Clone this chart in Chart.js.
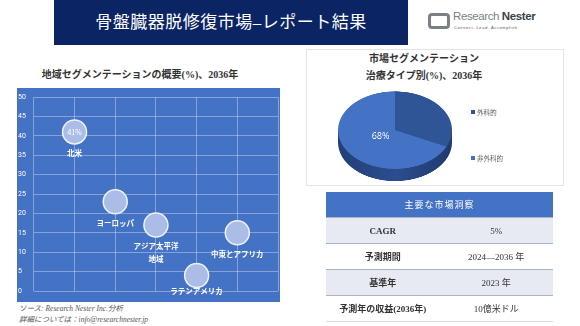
<!DOCTYPE html>
<html lang="ja">
<head>
<meta charset="utf-8">
<script src="https://cdn.jsdelivr.net/npm/chart.js@4"></script>
<style>
  body { margin: 0; width: 580px; height: 326px; position: relative; background: #fff; overflow: hidden;
         font-family: "Liberation Serif", "Noto Sans CJK JP", serif; }
  .abs { position: absolute; }
  #banner { left: 54px; top: 0; width: 354px; height: 45px; background: #0b2463; color: #fff;
            font-size: 17px; line-height: 45px; text-align: center; letter-spacing: 0.5px; }
  #logo-icon { left: 428px; top: 13px; width: 16px; height: 10px; border: 3px solid #7b7f86; border-radius: 4px; }
  #logo-icon2 { left: 436px; top: 16px; width: 5px; height: 8px; background: #fff; }
  #logo-text { left: 453px; top: 10px; font-family: "Liberation Sans Narrow", "Liberation Sans", sans-serif;
               font-size: 11.5px; color: #7b7f86; letter-spacing: -0.4px; }
  #logo-text b { color: #3b3f48; }
  #logo-sub { left: 454px; top: 25px; font-family: "Liberation Sans", sans-serif; font-size: 4px; color: #555;
              letter-spacing: 0.6px; }
  #left-title { left: 20px; top: 66px; width: 240px; text-align: center; font-size: 10px; font-weight: bold; color: #333; }
  #scatter-box { left: 17px; top: 88px; width: 263px; height: 214px; background: #4472c4; }
  #source { left: 19px; top: 304px; font-size: 7.5px; font-style: italic; color: #555; line-height: 10.5px; }
  #pie-card { left: 306px; top: 49px; width: 258px; height: 137px; border: 1px solid #e3e3e3; box-sizing: border-box; }
  #pie-title { left: 306px; top: 50px; width: 236px; text-align: center; font-size: 10px; font-weight: bold;
               color: #333; line-height: 17px; }
  #pie-canvas { left: 336px; top: 90px; transform-origin: 0 0; transform: scaleY(0.68); }
  .legend { font-size: 6.5px; color: #595959; }
  .legend span { display: inline-block; width: 4px; height: 4px; margin-right: 2px; vertical-align: 1px; }
  #insights { left: 326px; top: 192px; width: 227px; border-collapse: collapse; font-size: 9px; color: #333; }
  #insights th { background: #4472c4; color: #fff; font-weight: normal; height: 25px; padding: 0; letter-spacing: 1px; }
  #insights td { height: 25px; padding: 0; text-align: center; border-top: 1px solid #aab3c5; }
  #insights td:first-child { font-weight: bold; width: 50%; }
  #insights tr:nth-child(odd) td { background: #e7eaf3; }
  #insights tr:last-child td { border-bottom: 1px solid #d5d9e2; }
</style>
</head>
<body>
<div id="banner" class="abs">骨盤臓器脱修復市場–レポート結果</div>
<div id="logo-icon" class="abs"></div>
<div id="logo-icon2" class="abs"></div>
<div id="logo-text" class="abs">Research <b>Nester</b></div>
<div id="logo-sub" class="abs">Connect. Lead. Accomplish</div>

<div id="left-title" class="abs">地域セグメンテーションの概要(%)、2036年</div>
<div id="scatter-box" class="abs"><canvas id="regionChart"></canvas></div>
<div id="source" class="abs">ソース: Research Nester Inc.分析<br>詳細については：info@researchnester.jp</div>

<div id="pie-card" class="abs"></div>
<div id="pie-title" class="abs">市場セグメンテーション<br>治療タイプ別(%)、2036年</div>
<canvas id="pie-canvas" class="abs" width="118" height="136"></canvas>
<div id="pie-legend"></div>

<table id="insights" class="abs">
  <thead><tr><th colspan="2">主要な市場洞察</th></tr></thead>
  <tbody id="insight-rows"></tbody>
</table>

<script>
// 地域別シェア (%)
const regions = ['北米', 'ヨーロッパ', ['アジア太平洋', '地域'], 'ラテンアメリカ', '中東とアフリカ'];
const regionShares = [41, 23, 17, 4, 15];
const valueLabelRegions = ['北米'];
const yTicks = { min: 0, max: 50, step: 5 };

// 治療タイプ別 (%)
const treatmentTypes = ['外科的', '非外科的'];
const treatmentShares = [32, 68];
const treatmentColors = ['#2f5597', '#4472c4'];

// 主要な市場洞察
const insightLabels = ['CAGR', '予測期間', '基準年', '予測年の収益(2036年)'];
const insightValues = ['5%', '2024—2036 年', '2023 年', '10億米ドル'];

// テーブル
document.getElementById('insight-rows').innerHTML = insightLabels
  .map((l, i) => '<tr><td>' + l + '</td><td>' + insightValues[i] + '</td></tr>').join('');

// 凡例
document.getElementById('pie-legend').innerHTML = treatmentTypes
  .map((t, i) => '<div class="abs legend" style="left:471px;top:' + (107 + i * 46) + 'px">' +
       '<span style="background:' + treatmentColors[i] + '"></span>' + t + '</div>').join('');

const regionNames = regions.map(r => [].concat(r).join(''));

// バブルの下にラベル
const bubbleLabels = {
  id: 'bubbleLabels',
  afterDatasetsDraw(chart) {
    const { ctx, chartArea } = chart;
    ctx.save();
    ctx.fillStyle = '#fff';
    ctx.textAlign = 'center';
    ctx.textBaseline = 'middle';
    chart.getDatasetMeta(0).data.forEach((pt, i) => {
      ctx.font = 'bold 7.5px "Noto Sans CJK JP"';
      const lines = [].concat(regions[i]);
      const y0 = Math.min(pt.y + 21, chartArea.bottom);
      lines.forEach((s, k) => ctx.fillText(s, pt.x, y0 + k * 13));
      if (valueLabelRegions.includes(regionNames[i])) {
        ctx.font = '7px "Noto Sans CJK JP"';
        ctx.fillText(regionShares[i] + '%', pt.x, pt.y);
      }
    });
    ctx.restore();
  }
};

const gridColor = 'rgba(255,255,255,0.35)';
new Chart(document.getElementById('regionChart'), {
  type: 'scatter',
  data: {
    datasets: [{
      data: regionShares.map((v, i) => ({ x: i + 1, y: v })),
      pointRadius: 12,
      pointHoverRadius: 12,
      backgroundColor: '#a9bde6',
      borderColor: '#eef2fa',
      borderWidth: 1.5
    }]
  },
  options: {
    responsive: true,
    maintainAspectRatio: false,
    animation: false,
    layout: { autoPadding: false, padding: { top: 9, bottom: 11, left: 1, right: 2 } },
    plugins: { legend: { display: false }, tooltip: { enabled: false } },
    scales: {
      x: {
        min: 0, max: regions.length + 1,
        ticks: { display: false, stepSize: 1 },
        grid: { color: gridColor, drawTicks: false },
        border: { display: false }
      },
      y: {
        min: yTicks.min, max: yTicks.max,
        ticks: { stepSize: yTicks.step, color: '#fff', font: { size: 7, family: 'Roboto' }, padding: 4, crossAlign: 'far' },
        grid: { color: gridColor, drawTicks: false },
        border: { display: false }
      }
    }
  },
  plugins: [bubbleLabels]
});

// 3D風の側面
const pieDepth = {
  id: 'pieDepth',
  beforeDatasetsDraw(chart) {
    const arc = chart.getDatasetMeta(0).data[0];
    if (!arc) return;
    const { x, y, outerRadius: r } = arc;
    const d = 18;
    const ctx = chart.ctx;
    const g = ctx.createLinearGradient(x - r, 0, x + r, 0);
    g.addColorStop(0, '#223f78');
    g.addColorStop(0.5, '#2c4d8e');
    g.addColorStop(1, '#203a6e');
    ctx.save();
    ctx.fillStyle = g;
    ctx.fillRect(x - r, y, 2 * r, d);
    ctx.beginPath();
    ctx.arc(x, y + d, r, 0, Math.PI * 2);
    ctx.fill();
    ctx.restore();
  },
  afterDatasetsDraw(chart) {
    const meta = chart.getDatasetMeta(0);
    const big = treatmentShares.indexOf(Math.max(...treatmentShares));
    const arc = meta.data[big];
    const mid = (arc.startAngle + arc.endAngle) / 2;
    const px = arc.x + Math.cos(mid) * arc.outerRadius * 0.3;
    const py = arc.y + Math.sin(mid) * arc.outerRadius * 0.3;
    const ctx = chart.ctx;
    ctx.save();
    ctx.translate(px, py);
    ctx.scale(1, 1 / 0.68);
    ctx.fillStyle = '#fff';
    ctx.font = '9px "Open Sans"';
    ctx.textAlign = 'center';
    ctx.textBaseline = 'middle';
    ctx.fillText(treatmentShares[big] + '%', 0, 0);
    ctx.restore();
  }
};

new Chart(document.getElementById('pie-canvas'), {
  type: 'pie',
  data: {
    labels: treatmentTypes,
    datasets: [{ data: treatmentShares, backgroundColor: treatmentColors, borderWidth: 0 }]
  },
  options: {
    responsive: false,
    animation: false,
    devicePixelRatio: 2,
    layout: { padding: { top: 2, bottom: 20, left: 0, right: 0 } },
    plugins: { legend: { display: false }, tooltip: { enabled: false } }
  },
  plugins: [pieDepth]
});
</script>
</body>
</html>
